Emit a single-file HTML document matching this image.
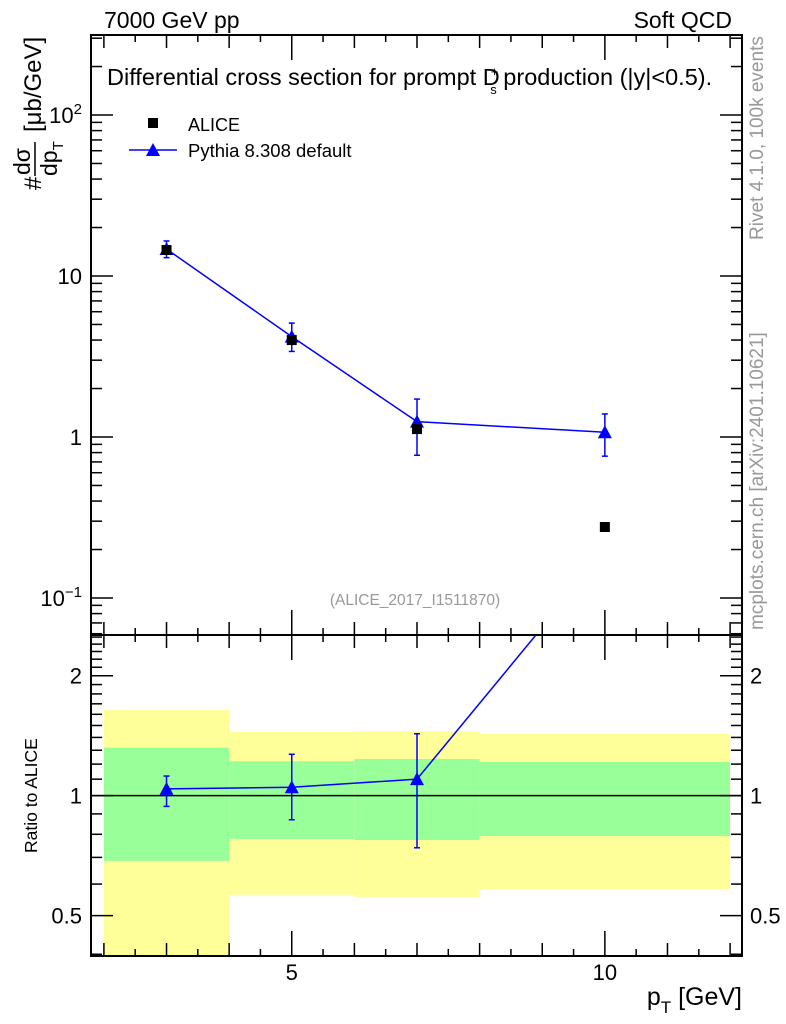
<!DOCTYPE html>
<html><head><meta charset="utf-8"><style>
html,body{margin:0;padding:0;background:#fff}
svg{display:block;font-family:"Liberation Sans",Arial,sans-serif}
</style></head><body>
<svg id="chart" width="786" height="1024" viewBox="0 0 786 1024" xmlns="http://www.w3.org/2000/svg"></svg>
<script>
const categories = [3, 5, 7, 10];
const binEdges = [2, 4, 6, 8, 12];
const aliceValues = [14.5, 4.0, 1.12, 0.276];
const pythiaValues = [14.7, 4.2, 1.245, 1.07];
const pythiaErrLow = [13.0, 3.4, 0.77, 0.76];
const pythiaErrHigh = [16.5, 5.1, 1.72, 1.39];
const ratioValues = [1.04, 1.05, 1.10, 4.1];
const ratioErrLow = [0.94, 0.87, 0.74, 2.8];
const ratioErrHigh = [1.12, 1.27, 1.43, 5.2];
const greenLow = [0.686, 0.779, 0.774, 0.792];
const greenHigh = [1.32, 1.22, 1.236, 1.215];
const yellowLow = [0.3, 0.564, 0.557, 0.583];
const yellowHigh = [1.64, 1.445, 1.45, 1.43];
const mainTickLabels = ["10\u207B\u00B9", "1", "10", "10\u00B2"];
const mainTickValues = [0.1, 1, 10, 100];
const ratioTickValues = [0.5, 1, 2];
const ratioTickLabels = ["0.5", "1", "2"];
const xTickValues = [5, 10];
const xTickLabels = ["5", "10"];

const NS = "http://www.w3.org/2000/svg";
const svg = document.getElementById('chart');
const L = 91, R = 742, T = 35, M = 635, B = 956;
const X0 = 1.794, X1 = 12.19;
const LOG_MAIN_TOP = Math.log10(314), LOG_MAIN_BOT = Math.log10(0.0589);
const LOG_R_TOP = Math.log10(2.53), LOG_R_BOT = Math.log10(0.396);
function xs(v){ return L + (v - X0) / (X1 - X0) * (R - L); }
function ym(v){ return T + (LOG_MAIN_TOP - Math.log10(v)) / (LOG_MAIN_TOP - LOG_MAIN_BOT) * (M - T); }
function yr(v){ return M + (LOG_R_TOP - Math.log10(v)) / (LOG_R_TOP - LOG_R_BOT) * (B - M); }
function mk(tag, attrs, parent){ const e = document.createElementNS(NS, tag); for (const k in attrs) e.setAttribute(k, attrs[k]); (parent||svg).appendChild(e); return e; }
function txt(s, attrs, parent){ const e = mk('text', attrs, parent); e.textContent = s; return e; }

const defs = mk('defs', {});
const cp = mk('clipPath', {id:'rclip'}, defs);
mk('rect', {x:L, y:M, width:R-L, height:B-M}, cp);

const bands = mk('g', {'clip-path':'url(#rclip)'});


for (let i = 0; i < categories.length; i++) {
  const x1 = xs(binEdges[i]), x2 = xs(binEdges[i+1]);
  const yb = mk('rect', {x:x1, y:yr(yellowHigh[i]), width:x2-x1, height:yr(yellowLow[i])-yr(yellowHigh[i]), fill:'#ffff99'}, bands);
  
  
  const gb = mk('rect', {x:x1, y:yr(greenHigh[i]), width:x2-x1, height:yr(greenLow[i])-yr(greenHigh[i]), fill:'#99ff99'}, bands);
  
  
}
mk('line', {x1:L, x2:R, y1:yr(1), y2:yr(1), stroke:'#000', 'stroke-width':1.5}, bands);

const f1 = mk('rect', {x:L, y:T, width:R-L, height:M-T, fill:'none', stroke:'#000', 'stroke-width':2});
 
const f2 = mk('rect', {x:L, y:M, width:R-L, height:B-M, fill:'none', stroke:'#000', 'stroke-width':2});
 

const tk = mk('g', {stroke:'#000', 'stroke-width':1.5});
 
for (let v = 2; v <= 12.001; v += 0.5) {
  const x = xs(v);
  const len = (Math.abs(v % 5) < 1e-6) ? 25 : (Math.abs(v - Math.round(v)) < 1e-6 ? 13 : 7);
  mk('line', {x1:x, x2:x, y1:T, y2:T+len}, tk);
  mk('line', {x1:x, x2:x, y1:B, y2:B-len}, tk);
  mk('line', {x1:x, x2:x, y1:M, y2:M-len}, tk);
  mk('line', {x1:x, x2:x, y1:M, y2:M+len}, tk);
}
for (let e = -2; e <= 2; e++) {
  for (let m = 1; m <= 9; m++) {
    const v = m * Math.pow(10, e);
    const y = ym(v);
    if (y < T || y > M) continue;
    const len = m === 1 ? 22 : 11;
    mk('line', {x1:L, x2:L+len, y1:y, y2:y}, tk);
    mk('line', {x1:R, x2:R-len, y1:y, y2:y}, tk);
  }
}
for (let v = 0.4; v <= 2.55; v += 0.1) {
  const y = yr(v);
  if (y < M || y > B) continue;
  const major = ratioTickValues.some(t => Math.abs(t - v) < 1e-6);
  const len = major ? 22 : 11;
  mk('line', {x1:L, x2:L+len, y1:y, y2:y}, tk);
  mk('line', {x1:R, x2:R-len, y1:y, y2:y}, tk);
}

mainTickValues.forEach((v, i) => {
  const t = txt('', {x:82, y:ym(v)+8, 'font-size':22, 'text-anchor':'end'});
   
  if (v === 100 || v === 0.1) {
    const a = mk('tspan', {}, t); a.textContent = '10';
    const b = mk('tspan', {dy:-9, 'font-size':15}, t); b.textContent = v === 100 ? '2' : '\u22121';
  } else t.textContent = mainTickLabels[i];
});
ratioTickValues.forEach((v, i) => {
  const t1 = txt(ratioTickLabels[i], {x:82, y:yr(v)+8, 'font-size':22, 'text-anchor':'end'});
   
  const t2 = txt(ratioTickLabels[i], {x:750, y:yr(v)+8, 'font-size':22});
   
});
xTickValues.forEach((v, i) => {
  const t = txt(xTickLabels[i], {x:xs(v), y:980, 'font-size':22, 'text-anchor':'middle'});
   
});

const pg = mk('g', {});
 
mk('polyline', {points: categories.map((c,i)=>xs(c)+','+ym(pythiaValues[i])).join(' '), fill:'none', stroke:'#0000ff', 'stroke-width':1.5}, pg);
function tri(x, y, parent, name){
  const p = mk('polygon', {points:`${x-7},${y+6} ${x+7},${y+6} ${x},${y-7}`, fill:'#0000ff'}, parent);
   
}
function err(x, y1, y2, parent){
  mk('line', {x1:x, x2:x, y1:y1, y2:y2, stroke:'#0000ff', 'stroke-width':1.5}, parent);
  mk('line', {x1:x-3, x2:x+3, y1:y1, y2:y1, stroke:'#0000ff', 'stroke-width':1.5}, parent);
  mk('line', {x1:x-3, x2:x+3, y1:y2, y2:y2, stroke:'#0000ff', 'stroke-width':1.5}, parent);
}
const ag = mk('g', {});
 
categories.forEach((c,i)=>{
  const r = mk('rect', {x:xs(c)-5, y:ym(aliceValues[i])-5, width:10, height:10, fill:'#000'}, ag);
   
});
categories.forEach((c,i)=>{
  err(xs(c), ym(pythiaErrHigh[i]), ym(pythiaErrLow[i]), pg);
  tri(xs(c), ym(pythiaValues[i]), pg, 'pythia-point');
});

const rg = mk('g', {'clip-path':'url(#rclip)'});
 
mk('polyline', {points: categories.map((c,i)=>xs(c)+','+yr(ratioValues[i])).join(' '), fill:'none', stroke:'#0000ff', 'stroke-width':1.5}, rg);
categories.forEach((c,i)=>{
  err(xs(c), yr(ratioErrHigh[i]), yr(ratioErrLow[i]), rg);
  tri(xs(c), yr(ratioValues[i]), rg, 'ratio-point');
});

const lg = mk('g', {});
 
mk('rect', {x:148, y:118, width:10, height:10, fill:'#000'}, lg);
txt('ALICE', {x:188, y:131, 'font-size':18}, lg);
mk('line', {x1:129, x2:177, y1:150, y2:150, stroke:'#0000ff', 'stroke-width':1.5}, lg);
tri(153, 150, lg, 'legend-pythia-marker');
txt('Pythia 8.308 default', {x:188, y:157, 'font-size':18.5}, lg);

const t1 = txt('7000 GeV pp', {x:104, y:28, 'font-size':23});  
const t2 = txt('Soft QCD', {x:732, y:28, 'font-size':23, 'text-anchor':'end'});  
const t3 = txt('', {x:107, y:85, 'font-size':23.5});  
t3.innerHTML = 'Differential cross section for prompt D<tspan dx="-9" dy="-9" font-size="13">+</tspan><tspan dx="-8" dy="18" font-size="13">s</tspan><tspan dy="-9"> production (|y|&lt;0.5).</tspan>';
const t4 = txt('(ALICE_2017_I1511870)', {x:415, y:605, 'font-size':15.5, fill:'#999', 'text-anchor':'middle'});  
const t5 = txt('Rivet 4.1.0,  100k events', {x:0, y:0, 'font-size':19, fill:'#999', transform:'translate(763,240) rotate(-90)'});  
const t6 = txt('mcplots.cern.ch [arXiv:2401.10621]', {x:0, y:0, 'font-size':19, fill:'#999', transform:'translate(763,630) rotate(-90)'});  
const t7 = txt('Ratio to ALICE', {x:0, y:0, 'font-size':17.5, transform:'translate(37,853) rotate(-90)'});  
const t8 = txt('', {x:0, y:0, 'font-size':25, transform:'translate(742,1005)', 'text-anchor':'end'});  
t8.innerHTML = 'p<tspan dy="8" font-size="17">T</tspan><tspan dy="-8"> [GeV]</tspan>';
const yt = mk('g', {transform:'translate(33,190) rotate(-90)'});  
txt('#', {x:0, y:8, 'font-size':24}, yt);
txt('d\u03C3', {x:15, y:-3, 'font-size':23}, yt);
mk('line', {x1:14, x2:48, y1:2, y2:2, stroke:'#000', 'stroke-width':1.5}, yt);
const dp = txt('', {x:14, y:24, 'font-size':23}, yt); dp.innerHTML = 'dp<tspan dy="6" font-size="15">T</tspan>';
txt('[\u03BCb/GeV]', {x:58, y:8, 'font-size':24}, yt);
</script>
</body></html>
